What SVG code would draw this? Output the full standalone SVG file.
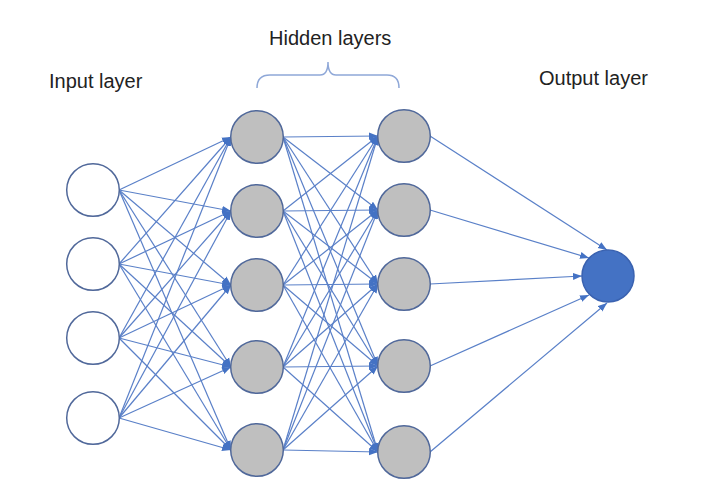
<svg xmlns="http://www.w3.org/2000/svg" width="701" height="481" viewBox="0 0 701 481">
<defs>
<marker id="ah" markerUnits="userSpaceOnUse" markerWidth="10" markerHeight="8" refX="9" refY="4" orient="auto">
<path d="M0,0.5 L9,4 L0,7.5 z" fill="#4472C4"/>
</marker>
<style>
.lbl{font-family:"Liberation Sans",Arial,sans-serif;font-size:20px;fill:#222}
.c{stroke:#5A80C8;stroke-width:1.2;fill:none;marker-end:url(#ah)}
.in{fill:#fff;stroke:#50689A;stroke-width:1.5}
.hid{fill:#BFBFBF;stroke:#50689A;stroke-width:1.5}
.out{fill:#4472C4;stroke:#3A62B0;stroke-width:1.5}
</style>
</defs>
<rect width="701" height="481" fill="#fff"/>
<g id="labels">
<text class="lbl" x="49" y="88">Input layer</text>
<text class="lbl" x="269" y="45">Hidden layers</text>
<text class="lbl" x="539" y="85">Output layer</text>
<path id="brace" d="M257,88 Q257,75 270,75 L320,75 Q328,75 328,62 Q328,75 336,75 L387,75 Q399,75 399,88" fill="none" stroke="#8FA8D8" stroke-width="1.5"/>
</g>
<g id="connectors">
<!-- input -> hidden1 -->
<path class="c" d="M119,190 L231,137"/><path class="c" d="M119,190 L231,211"/><path class="c" d="M119,190 L231,285"/><path class="c" d="M119,190 L231,367"/><path class="c" d="M119,190 L231,450"/>
<path class="c" d="M119,264 L231,137"/><path class="c" d="M119,264 L231,211"/><path class="c" d="M119,264 L231,285"/><path class="c" d="M119,264 L231,367"/><path class="c" d="M119,264 L231,450"/>
<path class="c" d="M119,338 L231,137"/><path class="c" d="M119,338 L231,211"/><path class="c" d="M119,338 L231,285"/><path class="c" d="M119,338 L231,367"/><path class="c" d="M119,338 L231,450"/>
<path class="c" d="M119,418 L231,137"/><path class="c" d="M119,418 L231,211"/><path class="c" d="M119,418 L231,285"/><path class="c" d="M119,418 L231,367"/><path class="c" d="M119,418 L231,450"/>
<!-- hidden1 -> hidden2 -->
<path class="c" d="M283,137 L378,136"/><path class="c" d="M283,137 L378,210"/><path class="c" d="M283,137 L378,284"/><path class="c" d="M283,137 L378,366"/><path class="c" d="M283,137 L378,452"/>
<path class="c" d="M283,211 L378,136"/><path class="c" d="M283,211 L378,210"/><path class="c" d="M283,211 L378,284"/><path class="c" d="M283,211 L378,366"/><path class="c" d="M283,211 L378,452"/>
<path class="c" d="M283,285 L378,136"/><path class="c" d="M283,285 L378,210"/><path class="c" d="M283,285 L378,284"/><path class="c" d="M283,285 L378,366"/><path class="c" d="M283,285 L378,452"/>
<path class="c" d="M283,367 L378,136"/><path class="c" d="M283,367 L378,210"/><path class="c" d="M283,367 L378,284"/><path class="c" d="M283,367 L378,366"/><path class="c" d="M283,367 L378,452"/>
<path class="c" d="M283,450 L378,136"/><path class="c" d="M283,450 L378,210"/><path class="c" d="M283,450 L378,284"/><path class="c" d="M283,450 L378,366"/><path class="c" d="M283,450 L378,452"/>
<!-- hidden2 -> output -->
<path class="c" d="M430,136 L607,250"/>
<path class="c" d="M430,210 L589,258"/>
<path class="c" d="M430,284 L582,276"/>
<path class="c" d="M430,366 L589,295"/>
<path class="c" d="M430,452 L607,303"/>
</g>
<g id="input-1"><circle class="in" cx="93" cy="190" r="26.3"/></g>
<g id="input-2"><circle class="in" cx="93" cy="264" r="26.3"/></g>
<g id="input-3"><circle class="in" cx="93" cy="338" r="26.3"/></g>
<g id="input-4"><circle class="in" cx="93" cy="418" r="26.3"/></g>
<g id="hidden1-1"><circle class="hid" cx="257" cy="137" r="26.3"/></g>
<g id="hidden1-2"><circle class="hid" cx="257" cy="211" r="26.3"/></g>
<g id="hidden1-3"><circle class="hid" cx="257" cy="285" r="26.3"/></g>
<g id="hidden1-4"><circle class="hid" cx="257" cy="367" r="26.3"/></g>
<g id="hidden1-5"><circle class="hid" cx="257" cy="450" r="26.3"/></g>
<g id="hidden2-1"><circle class="hid" cx="404" cy="136" r="26.3"/></g>
<g id="hidden2-2"><circle class="hid" cx="404" cy="210" r="26.3"/></g>
<g id="hidden2-3"><circle class="hid" cx="404" cy="284" r="26.3"/></g>
<g id="hidden2-4"><circle class="hid" cx="404" cy="366" r="26.3"/></g>
<g id="hidden2-5"><circle class="hid" cx="404" cy="452" r="26.3"/></g>
<g id="output"><circle class="out" cx="608" cy="276" r="26"/></g>
</svg>
